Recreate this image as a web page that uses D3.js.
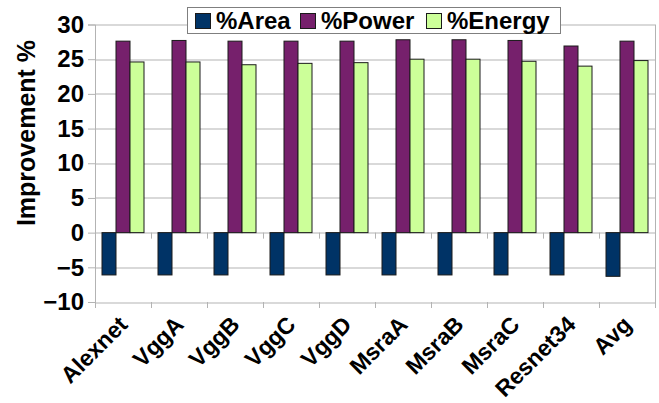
<!DOCTYPE html>
<html>
<head>
<meta charset="utf-8">
<script src="https://cdn.jsdelivr.net/npm/d3@7"></script>
<style>
  body { margin: 0; background: #fff; }
  text { font-family: "Liberation Sans", Arial, sans-serif; font-weight: bold; fill: #000; }
</style>
</head>
<body>
<div class="chart_wrapper"></div>
<script>
const categories = ["Alexnet", "VggA", "VggB", "VggC", "VggD", "MsraA", "MsraB", "MsraC", "Resnet34", "Avg"]
const seriesNames = ["%Area", "%Power", "%Energy"]
const area   = [-6.1, -6.1, -6.1, -6.1, -6.1, -6.1, -6.1, -6.1, -6.1, -6.3]
const power  = [27.6, 27.7, 27.6, 27.6, 27.6, 27.8, 27.8, 27.7, 26.9, 27.6]
const energy = [24.6, 24.6, 24.2, 24.4, 24.5, 25.0, 25.0, 24.7, 24.0, 24.8]
const yTicks = [-10, -5, 0, 5, 10, 15, 20, 25, 30]
const colors = ["#003366", "#76206c", "#ccff99"]

const dataset = categories.map((c, i) => ({ cat: c, values: [area[i], power[i], energy[i]] }))

const margin = {top: 24.5, right: 4, bottom: 101, left: 95},
    width = 659 - margin.left - margin.right,
    height = 403 - margin.top - margin.bottom

const svg = d3.select(".chart_wrapper")
  .append("svg")
    .attr("width", 659)
    .attr("height", 403)

const g = svg.append("g")
    .attr("transform", "translate(" + margin.left + "," + margin.top + ")")

const xScale = d3.scaleBand()
  .domain(categories)
  .range([0, width])
  .paddingInner(0)
  .paddingOuter(0)

const xSub = d3.scaleBand()
  .domain(seriesNames)
  .range([0, xScale.bandwidth()])
  .paddingOuter(0.5)
  .paddingInner(0)

const yScale = d3.scaleLinear()
  .domain([-10, 30])
  .range([height, 0])

// grid
g.selectAll(".grid")
  .data(yTicks)
  .enter()
  .append("line")
    .attr("x1", 0)
    .attr("x2", width)
    .attr("y1", d => Math.round(yScale(d)) + 0.5)
    .attr("y2", d => Math.round(yScale(d)) + 0.5)
    .attr("stroke", "#b3b3b3")
    .attr("stroke-width", 1)

// right border
g.append("line")
  .attr("x1", width + 0.5).attr("x2", width + 0.5)
  .attr("y1", 0).attr("y2", height)
  .attr("stroke", "#b3b3b3")

// y axis
const yAxis = d3.axisLeft(yScale)
  .tickValues(yTicks)
  .tickSize(7)
  .tickPadding(4)

const yg = g.append("g").call(yAxis)
yg.select(".domain").attr("stroke", "#b3b3b3")
yg.selectAll(".tick line").attr("stroke", "#b3b3b3")
yg.selectAll("text").style("font-size", "24px").attr("fill", "#000")

// x ticks at category boundaries, on the zero line and at the bottom
const bounds = categories.map(c => xScale(c)).concat([width])
;[0, -10].forEach(v => {
  g.selectAll(".xt" + v)
    .data(bounds)
    .enter()
    .append("line")
      .attr("x1", d => Math.round(d) + 0.5)
      .attr("x2", d => Math.round(d) + 0.5)
      .attr("y1", yScale(v))
      .attr("y2", yScale(v) + 6)
      .attr("stroke", "#b3b3b3")
})

// bars
const groups = g.selectAll(".cat")
  .data(dataset)
  .enter()
  .append("g")
    .attr("transform", d => "translate(" + xScale(d.cat) + ",0)")

groups.selectAll("rect")
  .data(d => d.values.map((v, i) => ({ key: seriesNames[i], v: v, i: i })))
  .enter()
  .append("rect")
    .attr("x", d => xSub(d.key))
    .attr("width", xSub.bandwidth())
    .attr("y", d => yScale(Math.max(0, d.v)))
    .attr("height", d => Math.abs(yScale(d.v) - yScale(0)))
    .attr("fill", d => colors[d.i])
    .attr("stroke", "#1a1a1a")
    .attr("stroke-width", 1)

// x labels
g.selectAll(".xlabel")
  .data(categories)
  .enter()
  .append("text")
    .attr("transform", d => "translate(" + (xScale(d) + xScale.bandwidth() / 2 + 6) + "," + (height + 24) + ") rotate(-45)")
    .attr("text-anchor", "end")
    .style("font-size", "23px")
    .text(d => d)

// y title
svg.append("text")
  .attr("transform", "translate(35,133) rotate(-90)")
  .attr("text-anchor", "middle")
  .style("font-size", "25px")
  .text("Improvement %")

// legend
const legend = svg.append("g")
legend.append("rect")
  .attr("x", 187.5).attr("y", 7.5)
  .attr("width", 373).attr("height", 26)
  .attr("fill", "#fff")
  .attr("stroke", "#7f7f7f")

const legendX = [195, 300, 426]
seriesNames.forEach((s, i) => {
  legend.append("rect")
    .attr("x", legendX[i] + 0.5).attr("y", 13.5)
    .attr("width", 15).attr("height", 15)
    .attr("fill", colors[i])
    .attr("stroke", "#1a1a1a")
  legend.append("text")
    .attr("x", legendX[i] + 21)
    .attr("y", 29)
    .style("font-size", "24px")
    .text(s)
})
</script>
</body>
</html>
